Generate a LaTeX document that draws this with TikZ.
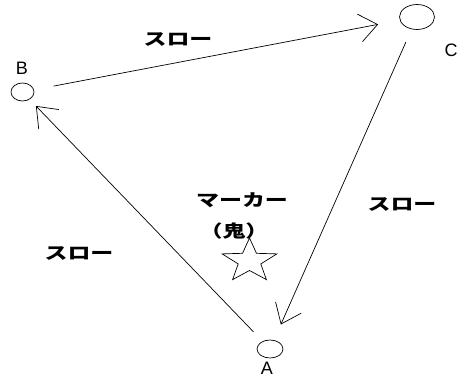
\documentclass[tikz,border=0pt]{standalone}
\usepackage{fontspec}
\usepackage{graphicx}
\setmainfont{Liberation Sans}
\newfontfamily\jpfont{Noto Sans CJK JP}
\usetikzlibrary{arrows.meta, shapes.geometric}
\newcommand{\wideJp}[1]{\scalebox{1.35}[1]{#1}}
\tikzset{
  spot/.style={draw, ellipse, inner sep=0pt, line width=0.7pt},
  letter/.style={font=\fontsize{18}{21}\selectfont, inner sep=0pt},
  jptext/.style={font=\jpfont\bfseries\fontsize{17}{20}\selectfont, inner sep=0pt},
  flow/.style={line width=0.7pt, -{Straight Barb[length=18pt, width=28pt]}}
}

\begin{document}
\begin{tikzpicture}[x=1pt, y=-1pt]
        \useasboundingbox (0,0) rectangle (461,379);
        % ----------------------------------------------------
        % Positions A, B, C
        % ----------------------------------------------------
        \node[spot, minimum width=23pt, minimum height=18pt] (B) at (22.5,92) {};
        \node[spot, minimum width=35pt, minimum height=25pt] (C) at (417,17) {};
        \node[spot, minimum width=26pt, minimum height=18pt] (A) at (270,349) {};
        \node[letter] (labB) at (22,68) {B};
        \node[letter] (labC) at (451,50) {C};
        \node[letter] (labA) at (267,368) {A};

        % ----------------------------------------------------
        % Moves between positions
        % ----------------------------------------------------
        \draw[flow, shorten <=20pt, shorten >=22pt] (B) -- (C);
        \draw[flow, shorten <=14pt, shorten >=17pt] (C) -- (A);
        \draw[flow, shorten <=13pt, shorten >=9pt] (A) -- (B);

        \node[jptext] (slowBC) at (178,40) {\wideJp{スロー}};
        \node[jptext] (slowCA) at (402,205) {\wideJp{スロー}};
        \node[jptext] (slowAB) at (79,254) {\wideJp{スロー}};

        % ----------------------------------------------------
        % Marker (oni) and star
        % ----------------------------------------------------
        \node[jptext] (marker) at (242,200) {\wideJp{マーカー}};
        \node[jptext] (oni) at (234,231) {\wideJp{（鬼）}};
        \draw[line width=0.7pt, shift={(249.5,261)}, xscale=1.25]
            plot[samples at={0,...,10}, variable=\k]
            ({(mod(\k,2)==0 ? 23 : 9.5)*cos(-90+36*\k)},
             {(mod(\k,2)==0 ? 23 : 9.5)*sin(-90+36*\k)}) -- cycle;
    \end{tikzpicture}
\end{document}
